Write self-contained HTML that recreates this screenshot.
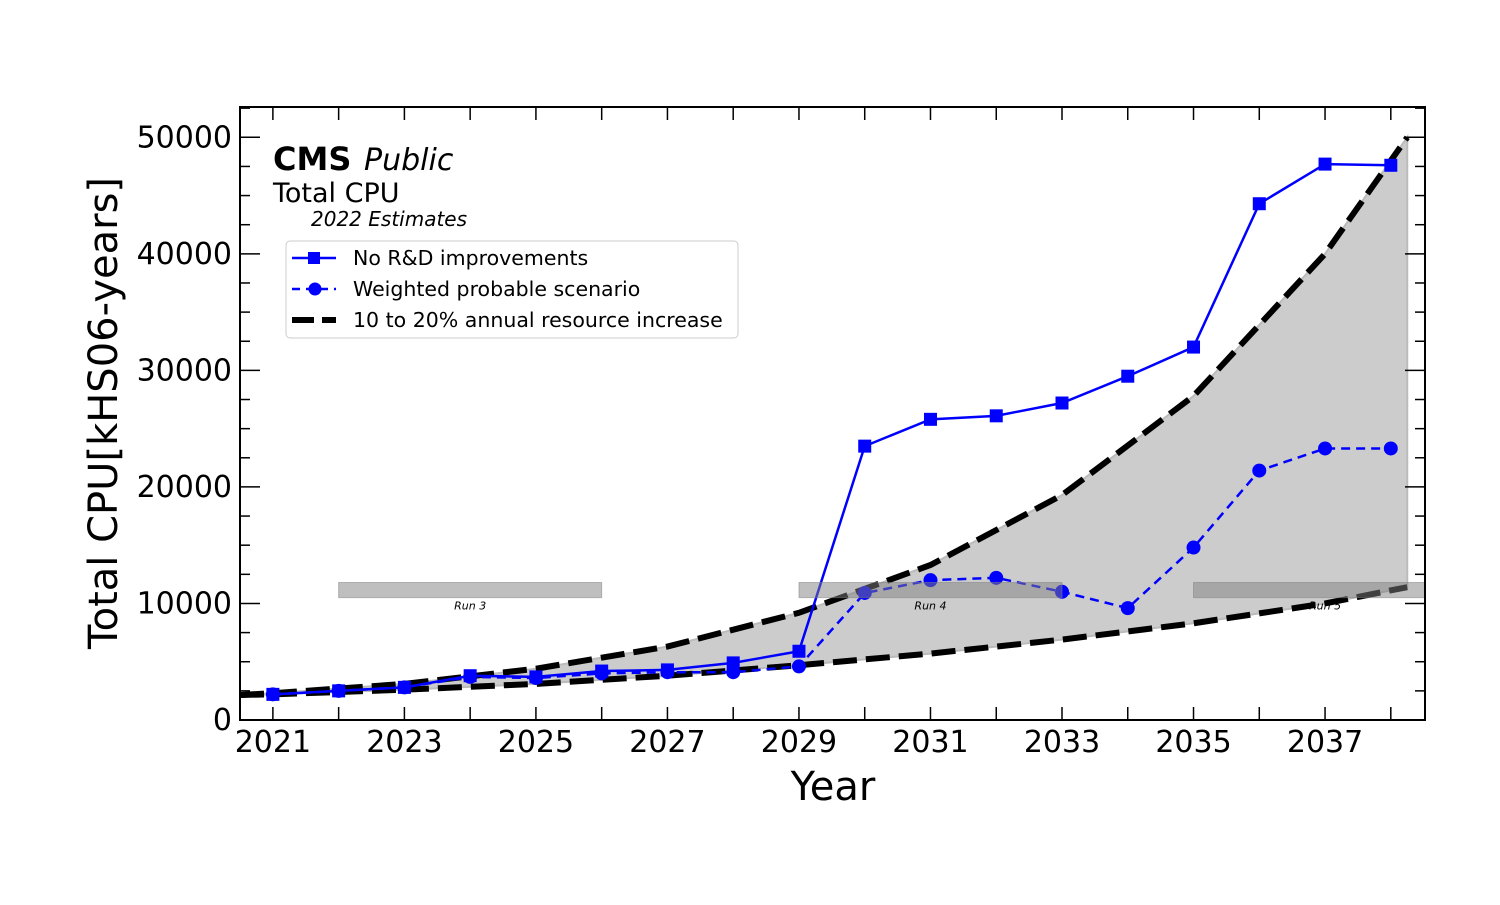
<!DOCTYPE html>
<html><head><meta charset="utf-8"><style>
body{margin:0;background:#fff;}
svg text{font-family:"DejaVu Sans","Liberation Sans",sans-serif;}
</style></head><body>
<svg id="chart" width="1500" height="900" xmlns="http://www.w3.org/2000/svg">
<g id="band"></g>
<g id="series"></g>
<g id="runs"></g>
<g id="axes"></g>
<g>
<text x="273" y="170" font-size="32" font-weight="bold">CMS</text>
<text x="364" y="170" font-size="30" font-style="italic">Public</text>
<text x="273" y="202" font-size="27">Total CPU</text>
<text x="311" y="226" font-size="20" font-style="italic">2022 Estimates</text>
</g>
<g>
<rect x="286" y="241" width="452" height="97" rx="4" fill="#fff" fill-opacity="0.8" stroke="#ccc" stroke-width="1"/>
<g>
<line x1="292" y1="258" x2="336" y2="258" stroke="#0000ff" stroke-width="2.5"/>
<rect x="308" y="252" width="12" height="12" fill="#0000ff"/>
<text x="353" y="265" font-size="20.5">No R&amp;D improvements</text></g>
<g>
<line x1="292" y1="289" x2="336" y2="289" stroke="#0000ff" stroke-width="2.5" stroke-dasharray="8,6"/>
<circle cx="315" cy="289" r="6.5" fill="#0000ff"/>
<text x="353" y="296" font-size="20.5">Weighted probable scenario</text></g>
<g>
<line x1="292" y1="320" x2="336" y2="320" stroke="#000" stroke-width="6" stroke-dasharray="22,8"/>
<text x="353" y="327" font-size="20.5">10 to 20% annual resource increase</text></g>
</g>
<text x="833" y="800" font-size="40" text-anchor="middle">Year</text>
<text transform="translate(117,413) rotate(-90)" font-size="40" text-anchor="middle">Total CPU[kHS06-years]</text>
</svg>
<script>
const years = [2021,2022,2023,2024,2025,2026,2027,2028,2029,2030,2031,2032,2033,2034,2035,2036,2037,2038];
const noRD = [2200,2500,2800,3800,3700,4200,4300,4900,5900,23500,25800,26100,27200,29500,32000,44300,47700,47600];
const weighted = [2200,2500,2800,3700,3600,4000,4100,4100,4600,10900,12000,12200,11000,9600,14800,21400,23300,23300];
const bandYears = [2020.5,2021,2023,2025,2027,2029,2031,2033,2035,2037,2038.25];
const bandUpper = [2150,2300,3100,4400,6300,9200,13300,19300,27800,40000,50000];
const bandLower = [2150,2200,2600,3100,3800,4700,5700,6900,8300,10000,11400];
const runNames = ["Run 3","Run 4","Run 5"];
const runStart = [2022,2029,2035];
const runEnd = [2026,2033,2040];
const yTicks = [0,10000,20000,30000,40000,50000];
const xTickLabels = [2021,2023,2025,2027,2029,2031,2033,2035,2037];

const L=240,R=1425,T=107,B=720;
const xMin=2020.5,xMax=2038.52,yMax=52600;
const sx=v=>L+(v-xMin)/(xMax-xMin)*(R-L);
const sy=v=>B-v/yMax*(B-T);
const NS="http://www.w3.org/2000/svg";
function mk(tag,parent,attrs){const e=document.createElementNS(NS,tag);for(const k in attrs)e.setAttribute(k,attrs[k]);parent.appendChild(e);return e;}

const band=document.getElementById('band');
let d="M"+bandYears.map((y,i)=>sx(y)+","+sy(bandUpper[i])).join(" L");
for(let i=bandYears.length-1;i>=0;i--)d+=" L"+sx(bandYears[i])+","+sy(bandLower[i]);
d+=" Z";
const bf=mk('path',band,{d:d,fill:'#cccccc',stroke:'#bbbbbb','stroke-width':2});


const upPts=bandYears.map((y,i)=>sx(y)+","+sy(bandUpper[i])).join(" ");
const loPts=bandYears.map((y,i)=>sx(y)+","+sy(bandLower[i])).join(" ");
const ul=mk('polyline',band,{points:upPts,fill:'none',stroke:'#000','stroke-width':6,'stroke-dasharray':'24,9'});


const ll=mk('polyline',band,{points:loPts,fill:'none',stroke:'#000','stroke-width':6,'stroke-dasharray':'24,9'});



const sg=document.getElementById('series');
const p1=mk('polyline',sg,{points:years.map((y,i)=>sx(y)+","+sy(noRD[i])).join(" "),fill:'none',stroke:'#0000ff','stroke-width':2.5});


const p2=mk('polyline',sg,{points:years.map((y,i)=>sx(y)+","+sy(weighted[i])).join(" "),fill:'none',stroke:'#0000ff','stroke-width':2.5,'stroke-dasharray':'9,6'});


years.forEach((y,i)=>{
  const r=mk('rect',sg,{x:sx(y)-6.5,y:sy(noRD[i])-6.5,width:13,height:13,fill:'#0000ff'});
  
  
  const c=mk('circle',sg,{cx:sx(y),cy:sy(weighted[i]),r:7,fill:'#0000ff'});
  
  
});

const rg=document.getElementById('runs');
runNames.forEach((n,i)=>{
  const x1=sx(runStart[i]),x2=Math.min(sx(runEnd[i]),R);
  const r=mk('rect',rg,{x:x1,y:sy(11800),width:x2-x1,height:sy(10500)-sy(11800),fill:'#808080','fill-opacity':0.5,stroke:'#808080','stroke-opacity':0.5,'stroke-width':1});
  
  
  const t=mk('text',rg,{x:(sx(runStart[i])+sx(runEnd[i]))/2,y:sy(10500)+12,'font-size':11,'font-style':'italic','text-anchor':'middle'});
  if(i==2)t.setAttribute('x',sx(2037));
  t.textContent=n;
  
  
});

const ax=document.getElementById('axes');
const fr=mk('rect',ax,{x:L,y:T,width:R-L,height:B-T,fill:'none',stroke:'#000','stroke-width':2});


for(let y=2021;y<=2038;y++){
  mk('line',ax,{x1:sx(y),y1:B,x2:sx(y),y2:B-13,stroke:'#000','stroke-width':1.5});
  mk('line',ax,{x1:sx(y),y1:T,x2:sx(y),y2:T+13,stroke:'#000','stroke-width':1.5});
}
for(let v=0;v<=52500;v+=2500){
  const len=v%10000===0?20:10;
  mk('line',ax,{x1:L,y1:sy(v),x2:L+len,y2:sy(v),stroke:'#000','stroke-width':1.5});
  mk('line',ax,{x1:R,y1:sy(v),x2:R-len,y2:sy(v),stroke:'#000','stroke-width':1.5});
}
xTickLabels.forEach(y=>{
  const t=mk('text',ax,{x:sx(y),y:752,'font-size':30,'text-anchor':'middle'});
  t.textContent=y;
  
  
});
yTicks.forEach(v=>{
  const t=mk('text',ax,{x:232,y:sy(v)+10,'font-size':30,'text-anchor':'end'});
  t.textContent=v;
  
  
});
</script>
</body></html>
